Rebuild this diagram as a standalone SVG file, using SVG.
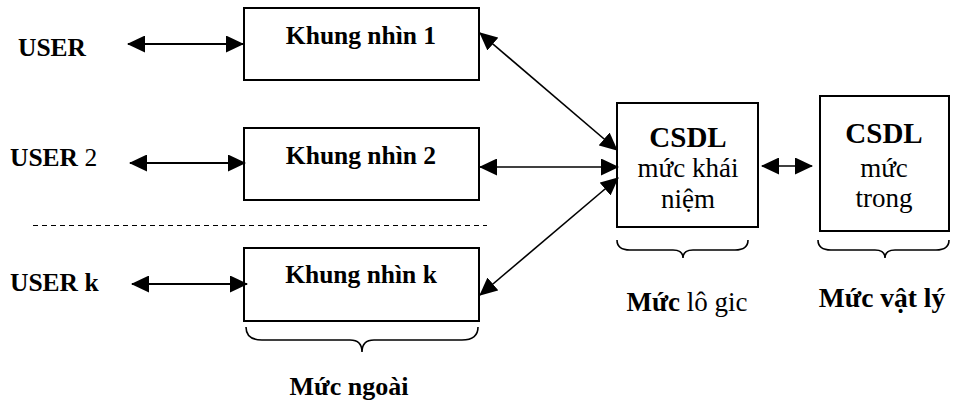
<svg xmlns="http://www.w3.org/2000/svg" width="953" height="403" viewBox="0 0 953 403">
<style>
text{font-family:"Liberation Serif","Times New Roman",serif;font-size:25.5px;fill:#000}
.b{font-weight:bold}
.big{font-size:29px}
.reg{font-size:27px}
.box{fill:#fff;stroke:#000;stroke-width:2}
.c{stroke:#000;fill:none}
.t{stroke-width:2.2}
.d{stroke-width:1.6}
.br{stroke:#000;stroke-width:1.6;fill:none}
</style>
<defs>
<marker id="ah" markerUnits="userSpaceOnUse" markerWidth="18" markerHeight="17" refX="17" refY="8.5" orient="auto-start-reverse" viewBox="0 0 18 17">
<path d="M0,0 L18,8.5 L0,17 z" fill="#000"/>
</marker>
</defs>
<rect width="953" height="403" fill="#fff"/>
<g id="users">
<text x="18" y="56" class="b">USER</text>
<text x="10" y="166"><tspan class="b">USER</tspan> 2</text>
<text x="10" y="291" class="b">USER k</text>
</g>
<g id="view1">
<rect class="box" x="244" y="8" width="235" height="72"/>
<text x="361" y="44" class="b" text-anchor="middle">Khung nhìn 1</text>
</g>
<g id="view2">
<rect class="box" x="244" y="128" width="235" height="72"/>
<text x="361" y="164" class="b" text-anchor="middle">Khung nhìn 2</text>
</g>
<g id="viewk">
<rect class="box" x="244" y="248" width="235" height="73"/>
<text x="361" y="283" class="b" text-anchor="middle">Khung nhìn k</text>
</g>
<g id="logical">
<rect class="box" x="617" y="103" width="141" height="124"/>
<text x="688" y="147" class="b big" text-anchor="middle">CSDL</text>
<text x="688" y="177" class="reg" text-anchor="middle">mức khái</text>
<text x="688" y="208" class="reg" text-anchor="middle">niệm</text>
</g>
<g id="physical">
<rect class="box" x="820" y="96" width="129" height="135"/>
<text x="884" y="143" class="b big" text-anchor="middle">CSDL</text>
<text x="884" y="177" class="reg" text-anchor="middle">mức</text>
<text x="884" y="207" class="reg" text-anchor="middle">trong</text>
</g>
<g id="connectors">
<line class="c t" x1="128" y1="44" x2="243" y2="44" marker-start="url(#ah)" marker-end="url(#ah)"/>
<line class="c t" x1="130" y1="163" x2="245" y2="163" marker-start="url(#ah)" marker-end="url(#ah)"/>
<line class="c t" x1="132" y1="284" x2="247" y2="284" marker-start="url(#ah)" marker-end="url(#ah)"/>
<line class="c d" x1="480" y1="33" x2="617" y2="150" marker-start="url(#ah)" marker-end="url(#ah)"/>
<line class="c d" x1="480" y1="167" x2="618" y2="167" marker-start="url(#ah)" marker-end="url(#ah)"/>
<line class="c d" x1="480" y1="295" x2="618" y2="178" marker-start="url(#ah)" marker-end="url(#ah)"/>
<line class="c d" x1="762" y1="166" x2="812" y2="166" marker-start="url(#ah)" marker-end="url(#ah)"/>
<line x1="33" y1="225.5" x2="487" y2="225.5" stroke="#000" stroke-width="1.2" stroke-dasharray="5,4"/>
</g>
<g id="level-outer">
<path class="br" d="M246,327 Q246,340 262,340 L350,340 Q362,340 362,352 Q362,340 374,340 L462,340 Q478,340 478,327"/>
<text x="349" y="395" class="b" style="font-size:26px" text-anchor="middle">Mức ngoài</text>
</g>
<g id="level-logical">
<path class="br" d="M617,240 Q617,250 630,250 L673,250 Q683,250 683,258 Q683,250 693,250 L735,250 Q748,250 748,240"/>
<text x="687" y="311" class="reg" text-anchor="middle"><tspan class="b">Mức</tspan> lô gic</text>
</g>
<g id="level-physical">
<path class="br" d="M818,240 Q818,250 831,250 L875,250 Q885,250 885,258 Q885,250 895,250 L936,250 Q949,250 949,240"/>
<text x="882" y="307" class="b" style="font-size:27.5px" text-anchor="middle">Mức vật lý</text>
</g>
</svg>
